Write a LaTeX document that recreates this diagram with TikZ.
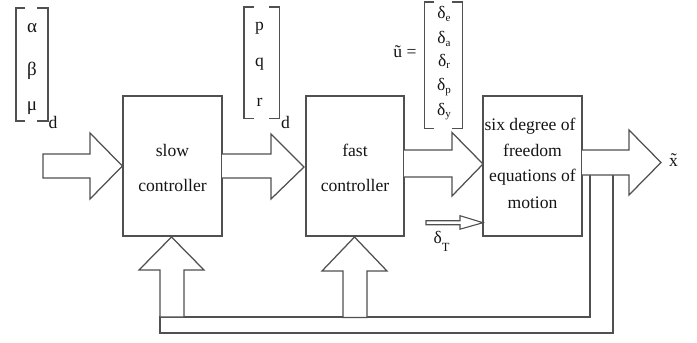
\documentclass[tikz,border=0pt]{standalone}
\usepackage{fontspec}
\setmainfont{Liberation Serif}
\newcommand\lowsub[1]{\raisebox{-0.35ex}{\fontsize{11}{11}\selectfont #1}}
\definecolor{lc}{RGB}{80,80,80}
\definecolor{tc}{RGB}{20,20,20}
\begin{document}
\begin{tikzpicture}[x=1pt,y=-1pt,
  box/.style={draw=lc, line width=1.25pt, minimum width=99pt, minimum height=140pt, inner sep=0pt},
  blk/.style={draw=lc, line width=1.25pt, fill=white, line join=miter},
  br/.style={draw=lc, line width=1.25pt},
  fb/.style={draw=lc, line width=1.25pt},
  txt/.style={font=\fontsize{17.6}{20}\selectfont, text=tc, inner sep=0pt, anchor=base},
  greek/.style={font=\fontsize{19}{20}\selectfont, text=tc, inner sep=0pt, anchor=base},
  dgreek/.style={font=\fontsize{17.5}{20}\selectfont, text=tc, inner sep=0pt, anchor=base}]
\useasboundingbox (0,0) rectangle (697,343);

% blocks
\node[box] (slow) at (172.5,166) {};
\node[box, minimum width=98pt] (fast) at (355,166) {};
\node[box] (six) at (532.5,166) {};

% block texts
\node[txt] (slow1) at (172.5,156.7) {slow};
\node[txt] (slow2) at (172.5,191.7) {controller};
\node[txt] (fast1) at (355,156.7) {fast};
\node[txt] (fast2) at (355,191.7) {controller};
\node[txt] (six1) at (530,130) {six degree of};
\node[txt] (six2) at (532.5,156) {freedom};
\node[txt] (six3) at (532.5,181) {equations of};
\node[txt] (six4) at (532.5,208) {motion};

% feedback lines
\draw[fb] (590,175) -- (590,317) -- (160,317) -- (160,333) -- (613,333) -- (613,175);

% block arrows
\draw[blk] (slow.west) -- (90,133) -- (90,154) -- (43,154) -- (43,178) -- (90,178) -- (90,199) -- cycle;
\draw[blk] (222,154) -- (271,154) -- (271,134) -- (304,167) -- (271,199) -- (271,178) -- (222,178);
\draw[blk] (404,150) -- (452,150) -- (452,132.5) -- (483,164) -- (452,196) -- (452,177) -- (404,177);
\draw[blk] (582,150) -- (629,150) -- (629,130) -- (661,162.5) -- (629,195) -- (629,175) -- (582,175);
\draw[blk, line width=1.1pt] (426,220.7) -- (460,220.7) -- (460,215.7) -- (483,222.7) -- (460,229.2) -- (460,224.7) -- (426,224.7) -- cycle;
\draw[blk] (171.5,237) -- (204,270) -- (184,270) -- (184,317) -- (160,317) -- (160,270) -- (139,270) -- cycle;
\draw[blk] (354.5,237) -- (387,271) -- (367,271) -- (367,317.5) -- (343,317.5) -- (343,271) -- (322,271) -- cycle;

% first bracket
\draw[br] (25,8) -- (16,8) -- (16,121) -- (25,121);
\draw[br] (37,8) -- (48,8) -- (48,121) -- (37,121);
\node[greek] (al) at (32,32) {α};
\node[greek] (be) at (32,75.5) {β};
\node[greek] (mu) at (32,110) {μ};
\node[txt] (d1) at (53,128.5) {d};

% second bracket
\draw[br] (254,7) -- (244,7) -- (244,118.5) -- (254,118.5);
\draw[br] (269,7) -- (279.5,7) -- (279.5,118.5) -- (269,118.5);
\node[txt] (p) at (259.5,30) {p};
\node[txt] (q) at (259.5,66.7) {q};
\node[txt] (r) at (259.5,106) {r};
\node[txt] (d2) at (285.5,128.5) {d};

% third bracket
\draw[br] (434,2) -- (424.5,2) -- (424.5,128.5) -- (434,128.5);
\draw[br] (452,2) -- (462.5,2) -- (462.5,128.5) -- (452,128.5);
\node[dgreek] (de) at (444,18.3) {δ\lowsub{e}};
\node[dgreek] (da) at (444,43.3) {δ\lowsub{a}};
\node[dgreek] (dr) at (444,66) {δ\lowsub{r}};
\node[dgreek] (dp) at (444,90.7) {δ\lowsub{p}};
\node[dgreek] (dy) at (444,115) {δ\lowsub{y}};
\node[txt] (u) at (405,57) {\~u =};

% delta T
\node[dgreek, anchor=base west] (dT) at (433.5,243.3) {δ\raisebox{-8.5pt}{\fontsize{12.5}{12}\selectfont T}};

% output
\node[txt, anchor=base west] (x) at (669,166) {\~x};
\end{tikzpicture}
\end{document}
